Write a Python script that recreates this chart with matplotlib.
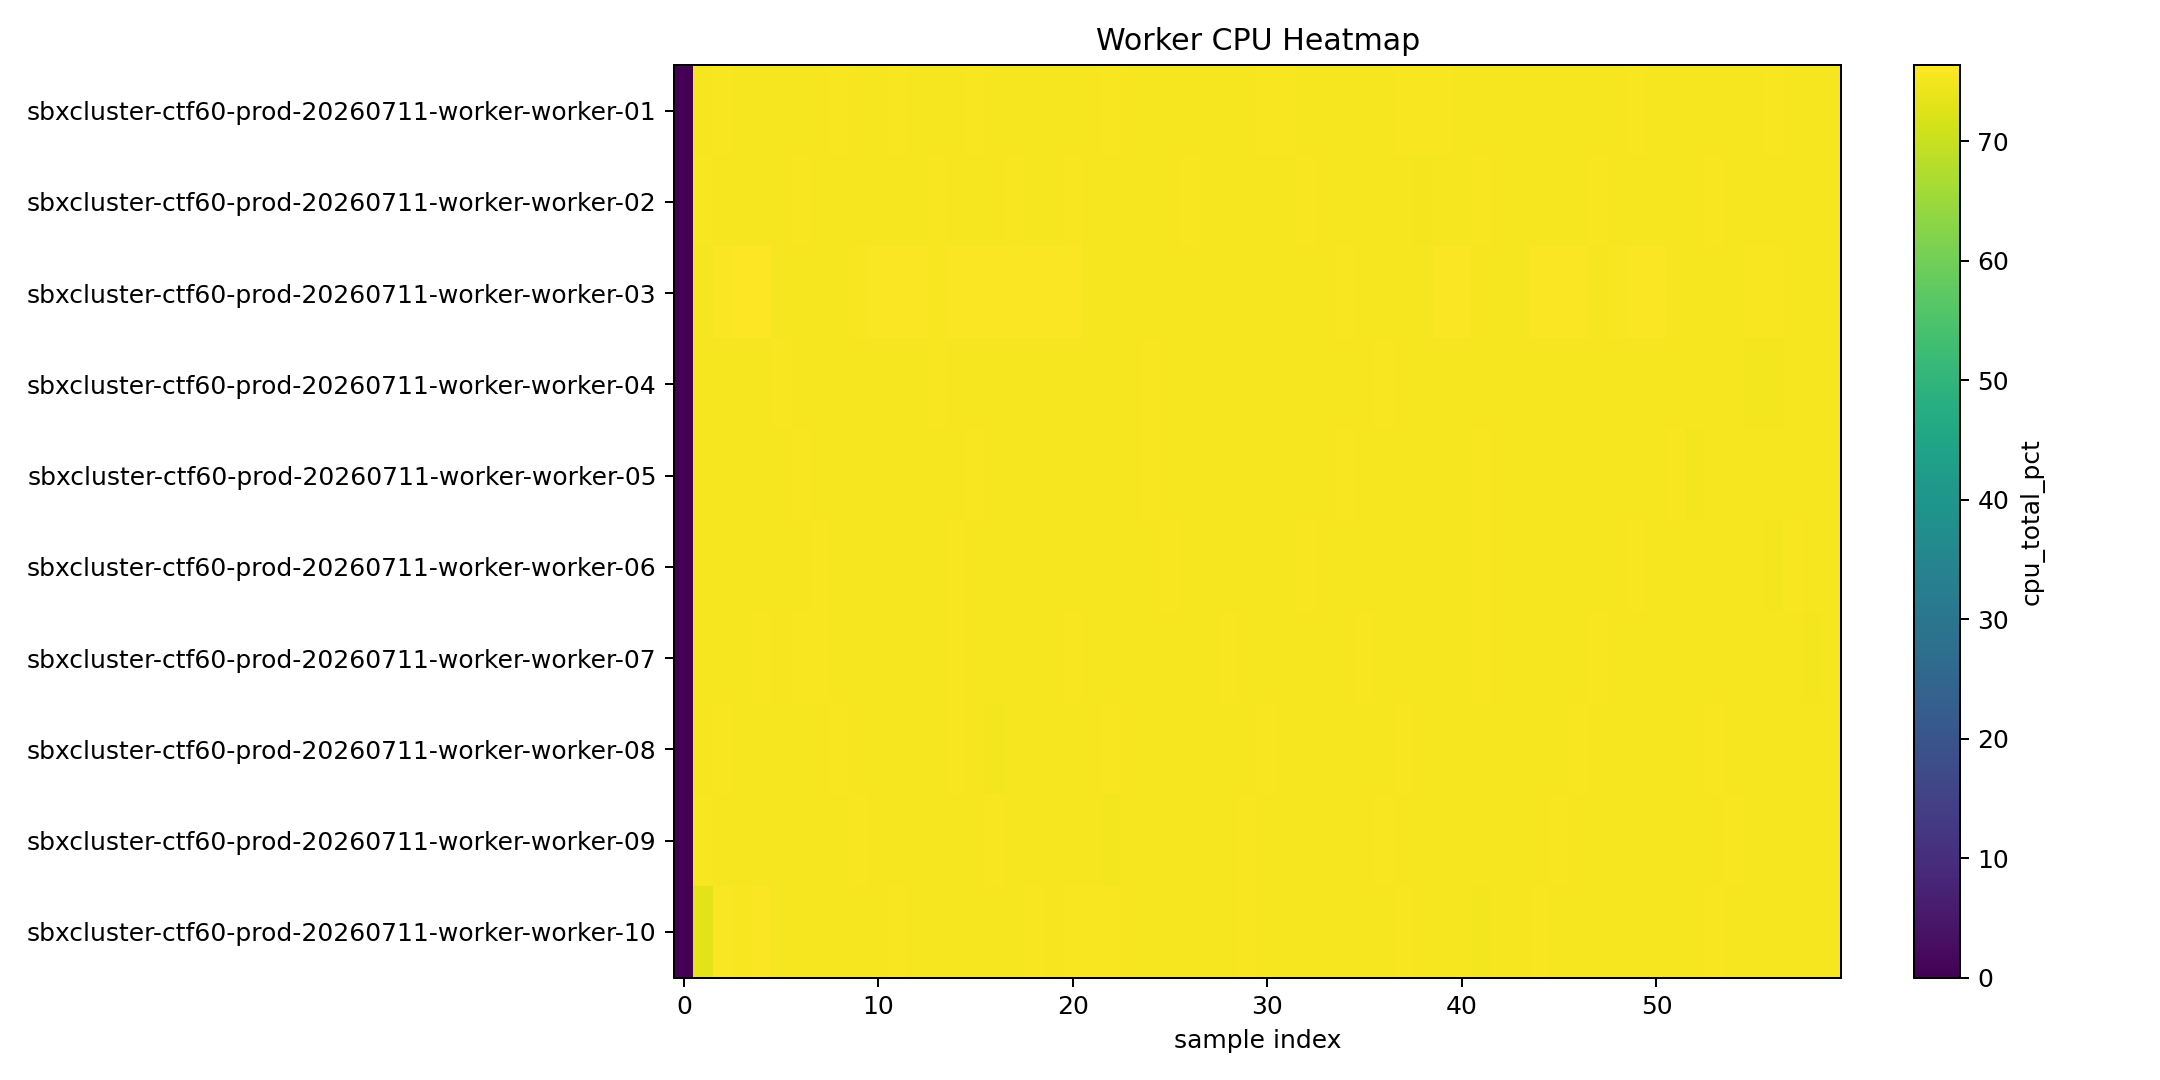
import matplotlib
matplotlib.use("Agg")
import matplotlib.pyplot as plt
import numpy as np

workers = [f"sbxcluster-ctf60-prod-20260711-worker-worker-{i:02d}" for i in range(1, 11)]

w01 = [0.0, 75.4, 75.6, 75.4, 75.5, 75.3, 75.4, 75.4, 75.6, 75.5,
       75.3, 75.6, 75.4, 75.4, 75.5, 75.6, 75.3, 75.4, 75.4, 75.5,
       75.4, 75.3, 75.6, 75.5, 75.4, 75.4, 75.3, 75.5, 75.4, 75.4,
       75.6, 75.8, 75.4, 75.3, 75.4, 75.5, 75.4, 75.6, 75.7, 75.8,
       75.4, 75.4, 75.5, 75.3, 75.4, 75.4, 75.5, 75.4, 75.3, 75.6,
       75.4, 75.4, 75.5, 75.3, 75.4, 75.4, 75.6, 75.4, 75.3, 75.4]
w02 = [0.0, 75.6, 75.4, 75.5, 75.3, 75.4, 75.6, 75.4, 75.5, 75.4,
       75.3, 75.5, 75.4, 75.6, 75.4, 75.3, 75.5, 75.6, 75.4, 75.4,
       75.6, 75.4, 75.5, 75.3, 75.4, 75.4, 75.6, 75.4, 75.5, 75.4,
       75.3, 75.4, 75.6, 75.4, 75.5, 75.4, 75.3, 75.5, 75.2, 75.4,
       75.4, 75.6, 75.4, 75.5, 75.3, 75.4, 75.4, 75.6, 75.3, 75.4,
       75.5, 75.4, 75.3, 75.6, 75.4, 75.4, 75.5, 75.3, 75.4, 75.4]
w03 = [0.0, 75.5, 76.1, 76.4, 76.2, 75.4, 75.4, 75.5, 75.4, 75.6,
       76.0, 76.1, 76.1, 75.8, 75.9, 76.0, 76.1, 76.0, 76.0, 76.1,
       75.9, 75.4, 75.4, 75.5, 75.3, 75.4, 75.4, 75.5, 75.4, 75.3,
       75.4, 75.4, 75.5, 75.4, 75.6, 75.4, 75.4, 75.5, 75.4, 75.9,
       75.9, 75.4, 75.4, 75.5, 75.9, 75.9, 76.0, 75.4, 75.8, 75.9,
       75.9, 75.4, 75.4, 75.5, 75.4, 75.6, 75.8, 75.4, 75.4, 75.5]
w04 = [0.0, 75.4, 75.5, 75.4, 75.3, 75.6, 75.4, 75.5, 75.4, 75.3,
       75.4, 75.5, 75.4, 75.6, 75.4, 75.3, 75.4, 75.5, 75.4, 75.4,
       75.3, 75.5, 75.4, 75.4, 75.6, 75.4, 75.5, 75.3, 75.4, 75.4,
       75.5, 75.4, 75.3, 75.4, 75.5, 75.4, 75.6, 75.4, 75.3, 75.5,
       75.4, 75.4, 75.5, 75.3, 75.4, 75.4, 75.5, 75.4, 75.3, 75.4,
       75.5, 75.4, 75.4, 75.3, 75.4, 75.1, 75.2, 75.4, 75.4, 75.5]
w05 = [0.0, 75.4, 75.3, 75.5, 75.4, 75.4, 75.6, 75.4, 75.5, 75.3,
       75.4, 75.4, 75.5, 75.4, 75.3, 75.6, 75.4, 75.4, 75.5, 75.4,
       75.3, 75.4, 75.5, 75.4, 75.6, 75.4, 75.3, 75.4, 75.5, 75.4,
       75.4, 75.5, 75.3, 75.4, 75.6, 75.4, 75.4, 75.3, 75.5, 75.4,
       75.4, 75.6, 75.4, 75.5, 75.3, 75.4, 75.4, 75.5, 75.4, 75.3,
       75.4, 75.8, 75.2, 75.4, 75.4, 75.5, 75.4, 75.3, 75.4, 75.5]
w06 = [0.0, 75.4, 75.5, 75.3, 75.4, 75.4, 75.5, 75.6, 75.4, 75.4,
       75.3, 75.5, 75.4, 75.4, 75.6, 75.4, 75.3, 75.5, 75.4, 75.4,
       75.5, 75.3, 75.4, 75.4, 75.5, 75.6, 75.4, 75.4, 75.3, 75.5,
       75.4, 75.4, 75.6, 75.4, 75.5, 75.3, 75.4, 75.4, 75.5, 75.4,
       75.3, 75.6, 75.4, 75.5, 75.4, 75.3, 75.4, 75.5, 75.4, 75.6,
       75.4, 75.3, 75.4, 75.5, 75.4, 75.4, 75.2, 75.6, 75.4, 75.4]
w07 = [0.0, 75.5, 75.4, 75.4, 75.6, 75.3, 75.8, 75.8, 75.5, 75.4,
       75.4, 75.3, 75.5, 75.4, 75.6, 75.4, 75.4, 75.5, 75.3, 75.4,
       75.6, 75.4, 75.5, 75.4, 75.3, 75.4, 75.5, 75.4, 75.6, 75.4,
       75.4, 75.3, 75.5, 75.4, 75.4, 75.6, 75.4, 75.5, 75.3, 75.4,
       75.4, 75.8, 75.4, 75.3, 75.5, 75.4, 75.4, 75.6, 75.4, 75.5,
       75.3, 75.4, 75.4, 75.5, 75.4, 75.3, 75.4, 75.5, 75.2, 75.4]
w08 = [0.0, 75.4, 75.6, 75.4, 75.3, 75.5, 75.4, 75.4, 75.6, 75.5,
       75.3, 75.4, 75.4, 75.5, 75.6, 75.4, 75.1, 75.4, 75.5, 75.4,
       75.3, 75.4, 75.6, 75.4, 75.5, 75.4, 75.3, 75.4, 75.5, 75.4,
       75.6, 75.4, 75.4, 75.3, 75.5, 75.4, 75.4, 75.6, 75.4, 75.5,
       75.3, 75.4, 75.4, 75.5, 75.4, 75.3, 75.6, 75.4, 75.4, 75.5,
       75.4, 75.3, 75.4, 75.6, 75.4, 75.5, 75.4, 75.3, 75.4, 75.5]
w09 = [0.0, 75.6, 75.4, 75.4, 75.5, 75.3, 75.4, 75.4, 75.5, 75.6,
       75.4, 75.4, 75.3, 75.5, 75.4, 75.4, 75.6, 75.4, 75.5, 75.3,
       75.4, 75.4, 75.2, 75.5, 75.4, 75.3, 75.4, 75.5, 75.4, 75.6,
       75.4, 75.4, 75.3, 75.5, 75.4, 75.4, 75.6, 75.4, 75.5, 75.3,
       75.4, 75.4, 75.5, 75.4, 75.3, 75.6, 75.4, 75.4, 75.5, 75.4,
       75.3, 75.4, 75.4, 75.5, 75.6, 75.4, 75.4, 75.3, 75.5, 75.4]
w10 = [0.0, 73.4, 75.9, 75.8, 75.9, 75.4, 75.4, 75.3, 75.4, 75.5,
       75.4, 75.6, 75.4, 75.4, 75.5, 75.4, 75.3, 75.4, 75.6, 75.5,
       75.8, 75.8, 75.8, 75.4, 75.4, 75.3, 75.5, 75.4, 75.4, 75.6,
       75.4, 75.5, 75.4, 75.3, 75.4, 75.5, 75.4, 75.6, 75.4, 75.3,
       75.4, 75.2, 75.5, 75.4, 75.6, 75.4, 75.4, 75.5, 75.3, 75.4,
       75.4, 75.5, 75.4, 75.6, 75.4, 75.3, 75.4, 75.5, 75.4, 75.4]

data = np.array([w01, w02, w03, w04, w05, w06, w07, w08, w09, w10])

fig, ax = plt.subplots(figsize=(12, 6), dpi=180)
im = ax.imshow(data, aspect="auto", cmap="viridis", interpolation="nearest")
ax.set_yticks(range(len(workers)))
ax.set_yticklabels(workers)
ax.set_xlabel("sample index")
ax.set_title("Worker CPU Heatmap")
cb = fig.colorbar(im, ax=ax)
cb.set_label("cpu_total_pct")
fig.tight_layout()
fig.savefig("out.png")
